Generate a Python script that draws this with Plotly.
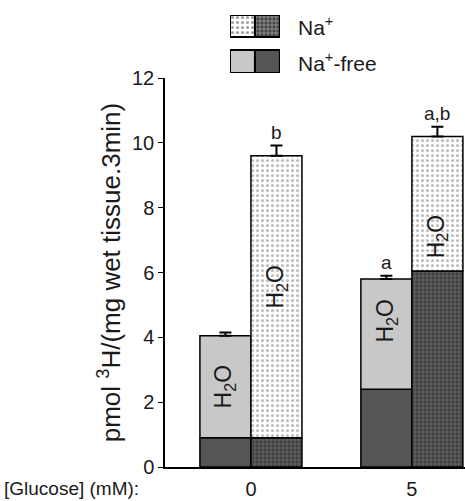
import plotly.graph_objects as go

# ---- data ----
glucose = ["0", "5"]
free_total = [4.05, 5.80]
free_base = [0.90, 2.40]
free_err = [0.10, 0.10]
na_total = [9.60, 10.20]
na_base = [0.90, 6.05]
na_err = [0.32, 0.30]
free_sig = ["", "a"]
na_sig = ["b", "a,b"]
free_label_y = [2.47, 4.50]
na_label_y = [5.55, 7.10]

FONT = "Arial, Liberation Sans, sans-serif"
TXT = "#1a1a1a"
xpos = list(range(len(glucose)))
W = 0.317

light_grey = "#c8c8c8"
dark_grey = "#555555"
line = dict(color="black", width=1.5)

fig = go.Figure()

# Na+-free (left bar of each group)
fig.add_bar(x=xpos, y=free_base, width=W, offset=-W,
            marker=dict(color=dark_grey, line=line), showlegend=False)
fig.add_bar(x=xpos, y=[t - b for t, b in zip(free_total, free_base)], base=free_base,
            width=W, offset=-W,
            marker=dict(color=light_grey, line=line), showlegend=False,
            error_y=dict(type="data", array=free_err, arrayminus=[0] * len(free_err),
                         symmetric=False, color="black", thickness=2, width=6))
# Na+ (right bar)
fig.add_bar(x=xpos, y=na_base, width=W, offset=0,
            marker=dict(color="#444444", line=line,
                        pattern=dict(shape="+", fgcolor="#9a9a9a", bgcolor="#404040",
                                     size=4, solidity=0.35)), showlegend=False)
fig.add_bar(x=xpos, y=[t - b for t, b in zip(na_total, na_base)], base=na_base,
            width=W, offset=0,
            marker=dict(color="white", line=line,
                        pattern=dict(shape=".", fgcolor="#7a7a7a", bgcolor="white",
                                     size=5, solidity=0.33)), showlegend=False,
            error_y=dict(type="data", array=na_err, arrayminus=[0] * len(na_err),
                         symmetric=False, color="black", thickness=2, width=6))

# H2O labels and significance letters
for i in xpos:
    fig.add_annotation(x=i - W / 2, y=free_label_y[i], text="H<sub>2</sub>O", textangle=-90,
                       showarrow=False, font=dict(size=23, color=TXT, family=FONT))
    fig.add_annotation(x=i + W / 2, y=na_label_y[i], text="H<sub>2</sub>O", textangle=-90,
                       showarrow=False, font=dict(size=23, color=TXT, family=FONT))
    if free_sig[i]:
        fig.add_annotation(x=i - W / 2, y=free_total[i] + free_err[i], text=free_sig[i],
                           yanchor="bottom", yshift=1, showarrow=False,
                           font=dict(size=19, color=TXT, family=FONT))
    if na_sig[i]:
        fig.add_annotation(x=i + W / 2, y=na_total[i] + na_err[i], text=na_sig[i],
                           yanchor="bottom", yshift=1, showarrow=False,
                           font=dict(size=19, color=TXT, family=FONT))

# ---- custom legend swatches (on an auxiliary axis) ----
leg_x = [0, 1]
fig.add_bar(x=leg_x, y=[22, 22], base=[36, 36], width=1, xaxis="x2", yaxis="y2",
            marker=dict(color=["white", "#444444"], line=dict(color="black", width=2),
                        pattern=dict(shape=[".", "+"], fgcolor=["#7a7a7a", "#9a9a9a"],
                                     bgcolor=["white", "#404040"], size=[5, 4],
                                     solidity=[0.33, 0.35])),
            showlegend=False, hoverinfo="skip")
fig.add_bar(x=leg_x, y=[23, 23], base=[0, 0], width=1, xaxis="x2", yaxis="y2",
            marker=dict(color=[light_grey, dark_grey], line=dict(color="black", width=2)),
            showlegend=False, hoverinfo="skip")
fig.add_annotation(xref="paper", yref="paper", x=0.437, y=0.965, text="Na<sup>+</sup>",
                   xanchor="left", yanchor="middle",
                   showarrow=False, font=dict(size=21, color=TXT, family=FONT))
fig.add_annotation(xref="paper", yref="paper", x=0.437, y=0.886, text="Na<sup>+</sup>-free",
                   xanchor="left", yanchor="middle",
                   showarrow=False, font=dict(size=21, color=TXT, family=FONT))

fig.add_annotation(xref="paper", yref="paper", x=-0.543, y=0, yshift=-21,
                   text="[Glucose] (mM):", xanchor="left", yanchor="middle",
                   showarrow=False, font=dict(size=19, color=TXT, family=FONT))

fig.update_layout(
    width=465, height=501,
    margin=dict(l=165, r=0, t=10, b=34),
    paper_bgcolor="white", plot_bgcolor="white",
    barmode="overlay",
    font=dict(family=FONT, color=TXT),
    xaxis=dict(range=[-0.534, 1.33], tickvals=xpos, ticktext=glucose,
               showline=True, linecolor="black", linewidth=1.5, ticks="",
               ticklabelstandoff=3,
               showgrid=False, zeroline=False, tickfont=dict(size=20), domain=[0, 1]),
    yaxis=dict(range=[0, 12], dtick=2, domain=[0, 0.851],
               showline=True, linecolor="black", linewidth=1.5,
               ticks="outside", ticklen=5, tickcolor="black",
               showgrid=False, zeroline=False, tickfont=dict(size=20),
               title=dict(text="pmol <sup>3</sup>H/(mg wet tissue.3min)",
                          font=dict(size=26), standoff=4)),
    xaxis2=dict(domain=[0.2167, 0.383], range=[-0.5, 1.5], visible=False, anchor="y2"),
    yaxis2=dict(domain=[0.862, 0.989], range=[0, 58], visible=False, anchor="x2"),
)

fig.write_html("out.html")
